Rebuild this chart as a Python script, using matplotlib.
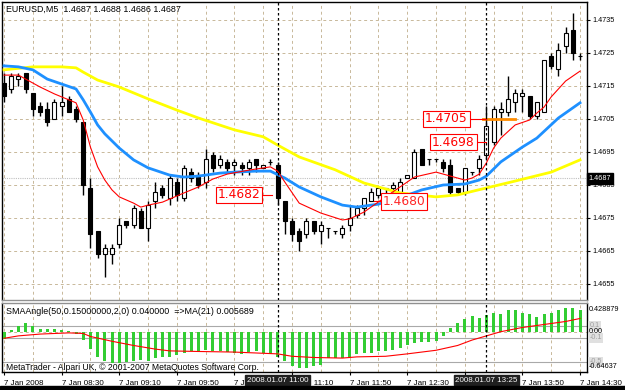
import numpy as np
import matplotlib
matplotlib.use('Agg')
import matplotlib.pyplot as plt
from matplotlib.patches import Rectangle
from matplotlib.transforms import blended_transform_factory

plt.rcParams['font.family'] = ['Liberation Sans', 'DejaVu Sans']

# EURUSD M5, 7 Jan 2008 07:50 .. 14:30 (one entry per bar)
opens = [1.4716, 1.4714, 1.4717, 1.4719, 1.4713, 1.4709, 1.4708, 1.4705, 1.4709, 1.4711,
         1.4708, 1.4704, 1.4684, 1.4671, 1.4664, 1.4664, 1.4667, 1.4674, 1.4673, 1.4677,
         1.4672, 1.4680, 1.4684, 1.4681, 1.4686, 1.4681, 1.4689, 1.4688, 1.4686, 1.4694,
         1.4691, 1.4692, 1.4691, 1.4691, 1.4690, 1.4693, 1.4690, 1.4692, 1.4691, 1.4680,
         1.4674, 1.4671, 1.4670, 1.4674, 1.4671, 1.4672, 1.4671, 1.4670, 1.4673, 1.4676,
         1.4678, 1.4680, 1.4682, 1.4684, 1.4684, 1.4683, 1.4687, 1.4687, 1.4696, 1.4693,
         1.4693, 1.4692, 1.4691, 1.4684, 1.4683, 1.4689, 1.4690, 1.4694, 1.4698, 1.4707,
         1.4707, 1.4710, 1.4712, 1.4712, 1.4706, 1.4707, 1.4724, 1.4720, 1.4727, 1.4732,
         1.4724]
highs = [1.4719, 1.4719, 1.4719, 1.4719, 1.4713, 1.4710, 1.4710, 1.4711, 1.4715, 1.4712,
         1.4709, 1.4704, 1.4687, 1.4671, 1.4667, 1.4667, 1.4675, 1.4674, 1.4679, 1.4678,
         1.4680, 1.4686, 1.4685, 1.4688, 1.4687, 1.4691, 1.4690, 1.4689, 1.4696, 1.4695,
         1.4694, 1.4693, 1.4693, 1.4692, 1.4693, 1.4693, 1.4691, 1.4693, 1.4692, 1.4680,
         1.4675, 1.4672, 1.4675, 1.4674, 1.4674, 1.4672, 1.4671, 1.4673, 1.4679, 1.4679,
         1.4681, 1.4684, 1.4684, 1.4684, 1.4686, 1.4687, 1.4688, 1.4696, 1.4696, 1.4693,
         1.4693, 1.4693, 1.4693, 1.4684, 1.4690, 1.4689, 1.4694, 1.4709, 1.4709, 1.4710,
         1.4718, 1.4714, 1.4714, 1.4712, 1.4710, 1.4723, 1.4725, 1.4728, 1.4733, 1.4737,
         1.4725]
lows = [1.4710, 1.4713, 1.4715, 1.4713, 1.4706, 1.4706, 1.4703, 1.4705, 1.4706, 1.4707,
        1.4704, 1.4682, 1.4666, 1.4663, 1.4657, 1.4661, 1.4666, 1.4672, 1.4672, 1.4672,
        1.4668, 1.4678, 1.4681, 1.4679, 1.4680, 1.4680, 1.4686, 1.4684, 1.4684, 1.4689,
        1.4690, 1.4689, 1.4688, 1.4688, 1.4688, 1.4689, 1.4690, 1.4691, 1.4679, 1.4670,
        1.4668, 1.4665, 1.4669, 1.4670, 1.4667, 1.4669, 1.4670, 1.4669, 1.4671, 1.4675,
        1.4676, 1.4680, 1.4681, 1.4682, 1.4683, 1.4682, 1.4687, 1.4687, 1.4691, 1.4691,
        1.4692, 1.4689, 1.4682, 1.4682, 1.4682, 1.4688, 1.4688, 1.4693, 1.4697, 1.4700,
        1.4706, 1.4707, 1.4707, 1.4705, 1.4705, 1.4707, 1.4720, 1.4718, 1.4725, 1.4723,
        1.4723]
closes = [1.4712, 1.4718, 1.4718, 1.4714, 1.4708, 1.4707, 1.4704, 1.4710, 1.4710, 1.4707,
          1.4705, 1.4685, 1.4670, 1.4664, 1.4666, 1.4666, 1.4673, 1.4673, 1.4678, 1.4672,
          1.4679, 1.4683, 1.4682, 1.4687, 1.4682, 1.4690, 1.4687, 1.4685, 1.4693, 1.4690,
          1.4693, 1.4690, 1.4692, 1.4690, 1.4692, 1.4691, 1.4691, 1.4692, 1.4681, 1.4674,
          1.4670, 1.4668, 1.4674, 1.4671, 1.4673, 1.4672, 1.4671, 1.4672, 1.4675, 1.4678,
          1.4681, 1.4683, 1.4684, 1.4684, 1.4685, 1.4686, 1.4688, 1.4695, 1.4691, 1.4693,
          1.4693, 1.4690, 1.4683, 1.4683, 1.4690, 1.4689, 1.4693, 1.4703, 1.4708, 1.4708,
          1.4711, 1.4713, 1.4713, 1.4706, 1.4710, 1.4723, 1.4721, 1.4726, 1.4731, 1.4725,
          1.4724]

# moving averages (bar index, price)
yellow_bars = [0, 4, 8, 10, 11, 13, 16, 18, 20, 24, 27, 32, 36, 38, 41, 46, 50, 55, 60, 63, 67, 71, 76, 80]
yellow_vals = [1.47199, 1.47208, 1.47208, 1.47205, 1.47192, 1.47168, 1.47147, 1.47129, 1.47111,
               1.47077, 1.47053, 1.47017, 1.46996, 1.46971, 1.46935, 1.46896, 1.46856, 1.46826,
               1.46814, 1.46820, 1.46841, 1.46862, 1.46889, 1.46926]
blue_bars = [0, 2, 4, 6, 8, 10, 11, 12, 13, 14, 16, 18, 20, 23, 25, 27, 30, 32, 35, 37, 39, 41,
             44, 47, 49, 52, 55, 58, 61, 64, 66, 67, 69, 72, 74, 77, 80]
blue_vals = [1.47211, 1.47208, 1.47199, 1.47171, 1.47156, 1.47141, 1.47108, 1.47071, 1.47032,
             1.47005, 1.46962, 1.46926, 1.46902, 1.46880, 1.46874, 1.46877, 1.46886, 1.46889,
             1.46892, 1.46892, 1.46871, 1.46844, 1.46814, 1.46789, 1.46783, 1.46792, 1.46811,
             1.46835, 1.46850, 1.46853, 1.46865, 1.46877, 1.46920, 1.46965, 1.46992, 1.47053,
             1.47099]
red_bars = [0, 2, 3, 5, 7, 9, 10, 11, 12, 13, 14, 15, 16, 18, 19, 20, 22, 25, 27, 29, 31, 34,
            37, 38, 39, 41, 44, 47, 48, 50, 53, 55, 57, 60, 62, 64, 65, 66, 67, 68, 69, 71, 73,
            74, 75, 76, 78, 80]
red_vals = [1.47183, 1.47183, 1.47171, 1.47147, 1.47126, 1.47108, 1.47099, 1.47047, 1.46965,
            1.46905, 1.46865, 1.46835, 1.46814, 1.46795, 1.46783, 1.46789, 1.46798, 1.46826,
            1.46844, 1.46868, 1.46883, 1.46895, 1.46905, 1.46892, 1.46859, 1.46795, 1.46765,
            1.46744, 1.46747, 1.46768, 1.46814, 1.46844, 1.46874, 1.46889, 1.46877, 1.46865,
            1.46871, 1.46883, 1.46917, 1.46962, 1.46992, 1.47032, 1.47047, 1.47068, 1.47086,
            1.47117, 1.47165, 1.47195]

# SMAAngle histogram and its MA(21)
angle_vals = [-0.13, 0.03, 0.10, 0.14, 0.09, 0.04, 0.04, 0.04, 0.03, 0.005,
              -0.04, -0.14, -0.29, -0.42, -0.49, -0.53, -0.53, -0.50, -0.49, -0.48,
              -0.49, -0.44, -0.43, -0.42, -0.39, -0.36, -0.33, -0.33, -0.31, -0.33,
              -0.33, -0.34, -0.36, -0.38, -0.34, -0.33, -0.36, -0.38, -0.42, -0.49,
              -0.57, -0.60, -0.60, -0.57, -0.56, -0.44, -0.44, -0.44, -0.42, -0.38,
              -0.36, -0.36, -0.33, -0.33, -0.31, -0.28, -0.22, -0.19, -0.18, -0.17,
              -0.16, -0.08, 0.06, 0.14, 0.21, 0.26, 0.23, 0.28, 0.31, 0.29,
              0.36, 0.36, 0.31, 0.29, 0.25, 0.29, 0.31, 0.36, 0.40, 0.40,
              0.36]
angle_ma_bars = [0, 2, 5, 9, 11, 12, 15, 18, 21, 23, 27, 32, 36, 38, 40, 43, 47, 49, 53, 56,
                 60, 63, 65, 67, 69, 72, 75, 78, 80]
angle_ma_vals = [-0.11, -0.07, -0.04, -0.02, -0.03, -0.08, -0.16, -0.23, -0.29, -0.32, -0.33,
                 -0.34, -0.36, -0.37, -0.41, -0.43, -0.44, -0.42, -0.41, -0.37, -0.31, -0.23,
                 -0.14, -0.07, 0.0, 0.07, 0.12, 0.17, 0.22]
angle_levels = [0.1, -0.1, -0.5]

price_ticks = [1.4655, 1.4665, 1.4675, 1.4685, 1.4695, 1.4705, 1.4715, 1.4725, 1.4735]
time_bars = [0, 8, 16, 24, 32, 40, 48, 56, 64, 72, 80]
time_labels = ['7 Jan 2008', '7 Jan 08:30', '7 Jan 09:10', '7 Jan 09:50', '7 Jan 10:30',
               '7 Jan 11:10', '7 Jan 11:50', '7 Jan 12:30', '7 Jan 13:10', '7 Jan 13:50',
               '7 Jan 14:30']
vline_bars = [38, 67]
vline_labels = ['2008.01.07 11:00', '2008.01.07 13:25']
bid = 1.4687

W, H = 625, 390
grid_col = '#c8b89a'
fig = plt.figure(figsize=(6.25, 3.9), dpi=100)
ax = fig.add_axes([2/W, 90/H, 585/W, 298/H])
ax2 = fig.add_axes([2/W, 18/H, 585/W, 69/H])

o = np.array(opens); h = np.array(highs); l = np.array(lows); c = np.array(closes)
x = np.arange(len(o))
up = c >= o

ax.vlines(x, l, h, color='black', lw=1, zorder=3)
ax.bar(x[up], (c - o)[up], bottom=o[up], width=0.55, facecolor='white',
       edgecolor='black', lw=0.8, zorder=4)
ax.bar(x[~up], (o - c)[~up], bottom=c[~up], width=0.55, facecolor='black',
       edgecolor='black', lw=0.8, zorder=4)

ax.plot(yellow_bars, yellow_vals, color='#ffff00', lw=2, zorder=5)
ax.plot(blue_bars, blue_vals, color='#1e90ff', lw=2, zorder=5)
ax.plot(red_bars, red_vals, color='#ff0000', lw=0.8, zorder=6)

ax.axhline(bid, color='#c0c0c0', lw=0.8, ls=(0, (1, 1)), zorder=2)

# price labels and trend line
ax.plot([66.5, 71], [1.4705, 1.4705], color='#ff8c00', lw=2, zorder=6)
lab_kw = dict(color='#ff0000', fontsize=8.8, family='DejaVu Sans', va='center', zorder=9,
              bbox=dict(boxstyle='square,pad=0.15', fc='white', ec='#ff0000', lw=0.8))
ax.plot([35.8, 37.2], [1.4682, 1.4682], color='#ff0000', lw=0.8, zorder=8)
ax.text(35.6, 1.4682, '1.4682', ha='right', **lab_kw)
ax.plot([64.7, 67], [1.4705, 1.4705], color='#ff0000', lw=0.8, zorder=8)
ax.text(64.4, 1.4705, '1.4705', ha='right', **lab_kw)
ax.plot([65.6, 67], [1.4698, 1.4698], color='#ff0000', lw=0.8, zorder=8)
ax.text(65.4, 1.4698, '1.4698', ha='right', **lab_kw)
ax.plot([51.4, 52.4], [1.4680, 1.4680], color='#ff0000', lw=0.8, zorder=8)
ax.text(52.6, 1.4680, '1.4680', ha='left', alpha=0.85, **lab_kw)

ax.set_xlim(-0.28, 80.97)
ax.set_ylim(1.465015, 1.474045)
ax.set_xticks(np.arange(0, 81, 4))
ax.tick_params(axis='x', length=0, labelbottom=False)
ax.yaxis.tick_right()
ax.set_yticks(price_ticks)
ax.yaxis.set_major_formatter('{x:.4f}')
ax.tick_params(axis='y', length=2.2, width=0.8, pad=1.5, labelsize=5.2)
ax.grid(True, color=grid_col, ls=(0, (3, 3)), lw=0.7)
for s in ax.spines.values():
    s.set_color('black'); s.set_linewidth(1)
ax.spines['bottom'].set_color('#909090')

tr = blended_transform_factory(ax.transAxes, ax.transData)
ax.text(1.003, bid, '%.4f' % bid, transform=tr, color='white', fontsize=5.2, va='center',
        ha='left', clip_on=False, zorder=10,
        bbox=dict(boxstyle='square,pad=0.3', fc='black', ec='black'))

# indicator window
ax2.bar(x, angle_vals, width=0.42, color='#32cd32', zorder=3)
ax2.plot(angle_ma_bars, angle_ma_vals, color='#ff0000', lw=0.8, zorder=4)
for lv in angle_levels:
    ax2.axhline(lv, color='#a9a9a9', lw=0.8, zorder=2)
ax2.axhline(0, color=grid_col, lw=0.7, ls=(0, (3, 3)), zorder=2)
ax2.set_xlim(-0.28, 80.97)
ax2.set_ylim(-0.672, 0.478)
ax2.set_xticks(time_bars)
ax2.set_xticklabels(time_labels, ha='left')
ax2.set_xticks(np.arange(0, 81, 4), minor=True)
ax2.tick_params(axis='x', which='major', length=2, pad=3.5, labelsize=5.8)
ax2.tick_params(axis='x', which='minor', length=0)
ax2.set_yticks([])
ax2.grid(True, which='both', axis='x', color=grid_col, ls=(0, (3, 3)), lw=0.7)
for s in ax2.spines.values():
    s.set_color('black'); s.set_linewidth(1)
ax2.spines['top'].set_color('#909090')

tr2 = blended_transform_factory(ax2.transAxes, ax2.transData)
for lv in angle_levels:
    ax2.text(1.004, lv, '%g' % lv, transform=tr2, color='#a0a0a0', fontsize=5.2,
             va='center', ha='left', clip_on=False, zorder=8,
             bbox=dict(boxstyle='square,pad=0.2', fc='#e0e0e0', ec='none'))
ax2.text(1.003, 0.428879, '0.428879', transform=tr2, fontsize=5.2, va='top', ha='left',
         clip_on=False, zorder=9)
ax2.text(1.003, 0.0, '0.00', transform=tr2, fontsize=5.2, va='center', ha='left',
         clip_on=False, zorder=9)
ax2.text(1.003, -0.64637, '-0.64637', transform=tr2, fontsize=5.2, va='bottom', ha='left',
         clip_on=False, zorder=9)

tr3 = blended_transform_factory(ax2.transData, ax2.transAxes)
for b, lab in zip(vline_bars, vline_labels):
    ax.axvline(b, color='black', lw=0.9, ls=(0, (2, 2)), zorder=7)
    ax2.axvline(b, color='black', lw=0.9, ls=(0, (2, 2)), zorder=7)
    ax2.text(b, -0.12, lab, transform=tr3, color='white', fontsize=5.8, ha='center',
             va='center', clip_on=False, zorder=10,
             bbox=dict(boxstyle='square,pad=0.2', fc='#202020', ec='#202020'))

fig.text(6/W, 1 - 9/H, 'EURUSD,M5  1.4687 1.4688 1.4686 1.4687', fontsize=6.4, va='center')
fig.text(6/W, 1 - 312/H, 'SMAAngle(50,0.15000000,2,0) 0.040000  =>MA(21) 0.005689',
         fontsize=6.4, va='center')
fig.text(6/W, 1 - 367/H, 'MetaTrader - Alpari UK, \u00a9 2001-2007 MetaQuotes Software Corp.',
         fontsize=6.2, va='center')
fig.patches.append(Rectangle((0, 0), 1, 4/H, transform=fig.transFigure,
                             color='black', zorder=0))

fig.savefig('out.png', dpi=100)
